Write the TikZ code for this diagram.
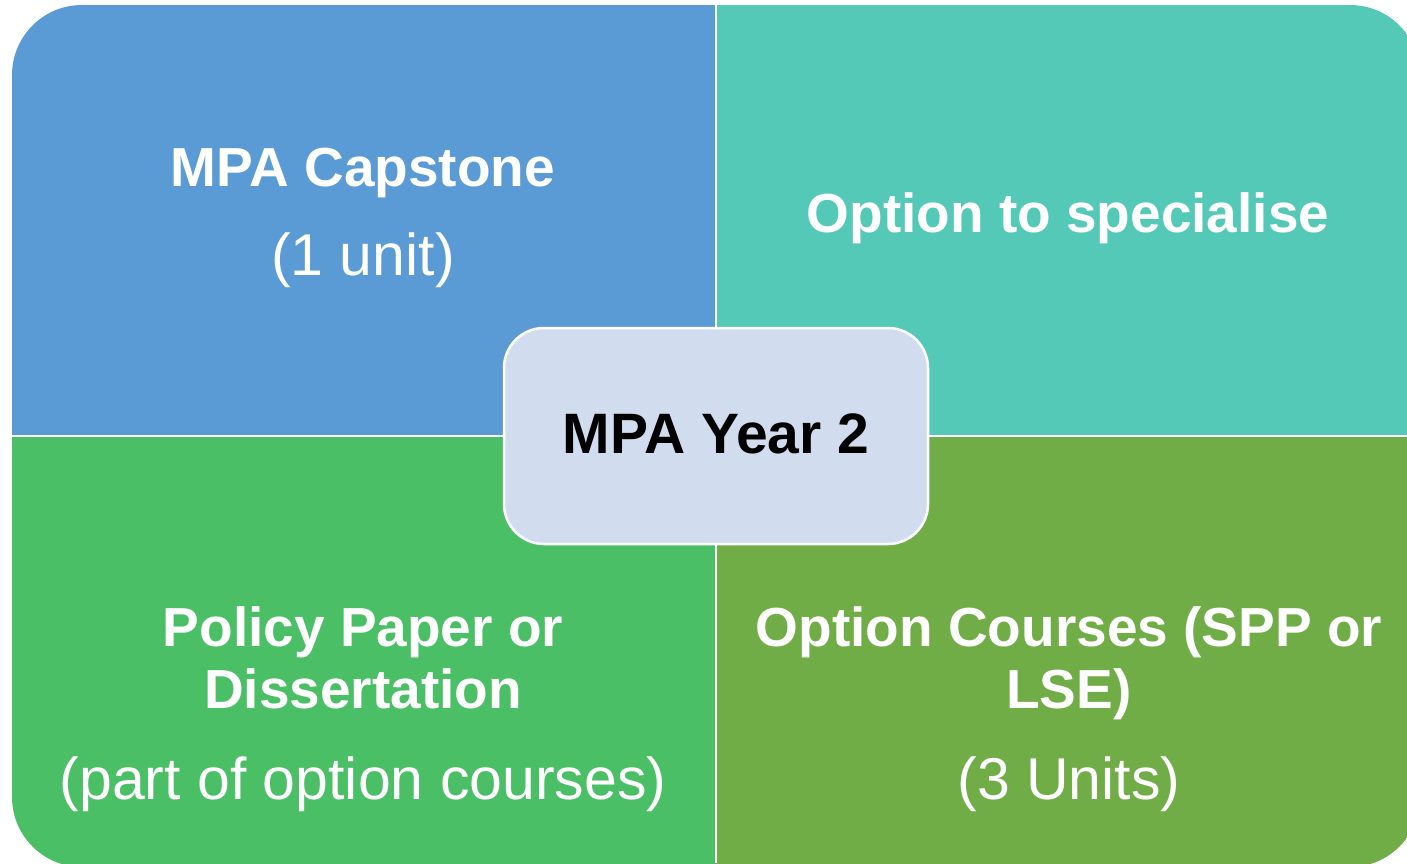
\documentclass[tikz,border=0pt]{standalone}
\usepackage{fontspec}
\setmainfont{Liberation Sans}
\definecolor{capblue}{HTML}{5B9BD5}
\definecolor{specteal}{HTML}{54C9B7}
\definecolor{papgreen}{HTML}{4BBF66}
\definecolor{optgreen}{HTML}{70AD47}
\definecolor{yearbox}{HTML}{D1DDEF}
\tikzset{
  head/.style={text=white, font=\fontsize{55}{62}\selectfont\bfseries,
               align=center, anchor=base, inner sep=0pt},
  units/.style={text=white, font=\fontsize{59}{64}\selectfont,
                anchor=base, inner sep=0pt},
}
\begin{document}
\begin{tikzpicture}[x=1pt,y=-1pt]
        \useasboundingbox (0,0) rectangle (1407,863);
        \clip (0,0) rectangle (1407,863);
        % four quarters inside one rounded outline
        \begin{scope}
            \clip[rounded corners=70pt] (12,5) rectangle (1420,867);
            \fill[capblue]  (12,5)    rectangle (716,436);
            \fill[specteal] (716,5)   rectangle (1420,436);
            \fill[papgreen] (12,436)  rectangle (716,867);
            \fill[optgreen] (716,436) rectangle (1420,867);
        \end{scope}
        \draw[white, line width=2pt] (716,0) -- (716,863);
        \draw[white, line width=2pt] (0,436) -- (1407,436);
        % centre box
        \node[draw=white, line width=2.5pt, fill=yearbox, rounded corners=40pt,
              minimum width=424pt, minimum height=216pt, inner sep=0pt]
              (year) at (716,436) {};
        \node[head, text=black, font=\fontsize{57}{62}\selectfont\bfseries]
              (yeartxt) at (716,453) {MPA Year 2};
        % top left
        \node[head]  (cap)     at (363,186) {MPA Capstone};
        \node[units] (capunit) at (363,275) {(1 unit)};
        % top right
        \node[head]  (spec)    at (1068,232) {Option to specialise};
        % bottom left
        \node[head, anchor=north] (paper) at (363,606)
              {Policy Paper or\\Dissertation};
        \node[units] (paperunit) at (363,799) {(part of option courses)};
        % bottom right
        \node[head, anchor=north] (opt) at (1069,606)
              {Option Courses (SPP or\\LSE)};
        \node[units] (optunit) at (1069,799) {(3 Units)};
\end{tikzpicture}
\end{document}
